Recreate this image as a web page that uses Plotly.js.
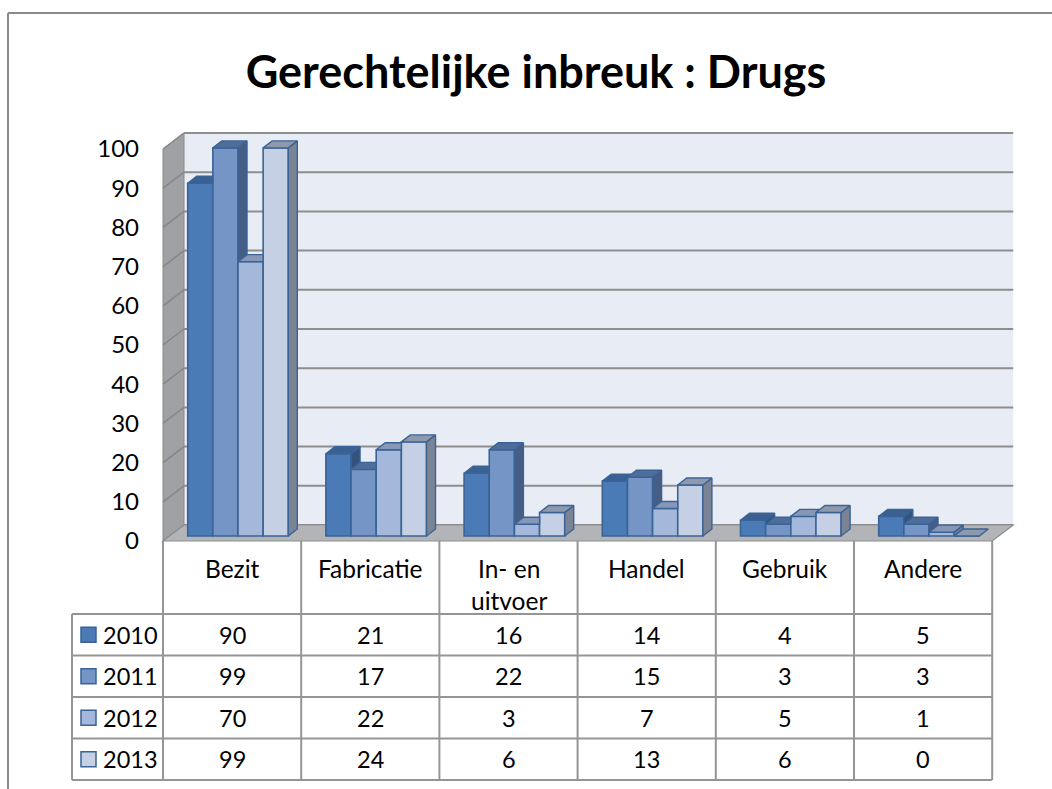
<!DOCTYPE html>
<html>
<head>
<meta charset="utf-8">
<script src="https://cdn.plot.ly/plotly-3.0.1.min.js"></script>
<style>html,body{margin:0;padding:0;background:#fff;}#chart{width:1052px;height:789px;}</style>
</head>
<body>
<div id="chart"></div>
<script>
// ---------- data ----------
const categories = ['Bezit', 'Fabricatie', 'In- en<br>uitvoer', 'Handel', 'Gebruik', 'Andere'];
const years = ['2010', '2011', '2012', '2013'];
const v2010 = [90, 21, 16, 14, 4, 5];
const v2011 = [99, 17, 22, 15, 3, 3];
const v2012 = [70, 22, 3, 7, 5, 1];
const v2013 = [99, 24, 6, 13, 6, 0];
const yTicks = [0, 10, 20, 30, 40, 50, 60, 70, 80, 90, 100];

// ---------- styling ----------
const series = [v2010, v2011, v2012, v2013];
const frontColors = ['#4A7BB7', '#7495C5', '#A3B8DA', '#C5D0E4'];
const topColors   = ['#3B6193', '#4F6D9A', '#8697B7', '#8E99AD'];
const sideColors  = ['#33537F', '#465E86', '#6F7F9C', '#7B8495'];
const edge = '#3A6396';
const FONT = 'Lato, "Open Sans", sans-serif';

const W = 1052, H = 789, L = 140, R = 20, T = 110, B = 229;
const PXU = 138.2;            // px per category
const X0PX = 163;             // pixel of x=-0.5
const YPX = 3.92;             // px per value unit
const BASEPX = 536;           // pixel of value 0 (bar base)
const xr0 = -0.5 - (X0PX - L) / PXU;
const xr1 = xr0 + (W - L - R) / PXU;
const yr0 = (BASEPX - (H - B)) / YPX;
const yr1 = (BASEPX - T) / YPX;
const pX = px => (px - L) / (W - L - R);
const pY = py => (H - B - py) / (H - T - B);

// 3D geometry (data units)
const barW = 25.15 / PXU;
const grpOff = -44.4 / PXU;
const bdx = 9 / PXU, bdy = 7 / YPX;
const wdx = 21 / PXU;
const floorFront = (BASEPX - 541) / YPX;
const wallBase = (BASEPX - 525) / YPX;
const nC = categories.length;
const xs = categories.map((c, i) => i);

const traces = [];
// front faces as bars
series.forEach((vals, s) => {
  traces.push({
    type: 'bar', x: xs, y: vals, name: years[s],
    offset: grpOff + s * barW, width: barW,
    marker: {color: frontColors[s], line: {color: edge, width: 1.6}},
    hoverinfo: 'skip', showlegend: false
  });
});
// top and side faces computed from the data
series.forEach((vals, s) => {
  const tx = [], ty = [], sx = [], sy = [];
  vals.forEach((v, c) => {
    const xl = c + grpOff + s * barW, xrr = xl + barW;
    const nxt = s < series.length - 1 ? series[s + 1][c] : null;
    // top face
    if (nxt !== null && nxt > v) {
      const g = Math.min(nxt, v + bdy);
      const fx = xrr + Math.max(0, (v + bdy - nxt)) * bdx / bdy;
      tx.push(xl, xrr, xrr, fx, xl + bdx, xl, null);
      ty.push(v, v, g, v + bdy, v + bdy, v, null);
    } else {
      tx.push(xl, xrr, xrr + bdx, xl + bdx, xl, null);
      ty.push(v, v, v + bdy, v + bdy, v, null);
    }
    // side face (visible part)
    const low = nxt === null ? 0 : nxt;
    if (v > low) {
      sx.push(xrr, xrr, xrr + bdx, xrr + bdx, xrr, null);
      sy.push(low, v, v + bdy, low + bdy, low, null);
    }
  });
  traces.push({type: 'scatter', mode: 'lines', x: sx, y: sy, fill: 'toself',
    fillcolor: sideColors[s], line: {color: edge, width: 1.4}, hoverinfo: 'skip', showlegend: false});
  traces.push({type: 'scatter', mode: 'lines', x: tx, y: ty, fill: 'toself',
    fillcolor: topColors[s], line: {color: edge, width: 1.4}, hoverinfo: 'skip', showlegend: false});
});

// walls
const shapes = [];
const wallTop = wallBase + 100;
shapes.push({type: 'rect', layer: 'below', xref: 'x', yref: 'y', x0: -0.5 + wdx, x1: 5.5 + wdx, y0: wallBase, y1: wallTop,
  fillcolor: '#E8ECF5', line: {width: 0}});
yTicks.forEach(k => {
  shapes.push({type: 'line', layer: 'below', xref: 'x', yref: 'y', x0: -0.5 + wdx, x1: 5.5 + wdx, y0: wallBase + k, y1: wallBase + k,
    line: {color: '#8E8E8E', width: 2}});
});
shapes.push({type: 'path', layer: 'below', xref: 'x', yref: 'y',
  path: `M${-0.5},${floorFront} L${-0.5},${floorFront + 100} L${-0.5 + wdx},${wallTop} L${-0.5 + wdx},${wallBase} Z`,
  fillcolor: '#A0A1A4', line: {color: '#8A8A8A', width: 1}});
yTicks.forEach(k => {
  shapes.push({type: 'line', layer: 'below', xref: 'x', yref: 'y', x0: -0.5, x1: -0.5 + wdx, y0: floorFront + k, y1: wallBase + k,
    line: {color: '#868686', width: 1.5}});
});
shapes.push({type: 'path', layer: 'below', xref: 'x', yref: 'y',
  path: `M${-0.5},${floorFront} L${5.5},${floorFront} L${5.5 + wdx},${wallBase} L${-0.5 + wdx},${wallBase} Z`,
  fillcolor: '#B3B4B7', line: {color: '#8E8E8E', width: 1.2}});

// data table
const gridCol = '#959595';
const colPx = k => X0PX + k * PXU;
const headTop = 541, rowTop = 614, rowH = 41.5;
const tableBottom = rowTop + rowH * years.length;
for (let k = 0; k <= nC; k++) {
  shapes.push({type: 'line', xref: 'paper', yref: 'paper', x0: pX(colPx(k)), x1: pX(colPx(k)), y0: pY(headTop), y1: pY(tableBottom),
    line: {color: gridCol, width: 2}});
}
for (let r = 0; r <= years.length; r++) {
  const y = rowTop + r * rowH;
  shapes.push({type: 'line', xref: 'paper', yref: 'paper', x0: pX(72), x1: pX(colPx(nC)), y0: pY(y), y1: pY(y),
    line: {color: gridCol, width: 2}});
}
shapes.push({type: 'line', xref: 'paper', yref: 'paper', x0: pX(72), x1: pX(72), y0: pY(rowTop), y1: pY(tableBottom),
  line: {color: gridCol, width: 2}});
// outer chart border
shapes.push({type: 'line', xref: 'paper', yref: 'paper', x0: pX(8), x1: pX(1060), y0: pY(13), y1: pY(13), line: {color: '#8A8A8A', width: 2}});
shapes.push({type: 'line', xref: 'paper', yref: 'paper', x0: pX(8), x1: pX(8), y0: pY(13), y1: pY(800), line: {color: '#8A8A8A', width: 2}});

const annotations = [];
const hf = {family: FONT, size: 24.5, color: '#000'};
const tf = {family: FONT, size: 23.5, color: '#000'};
categories.forEach((c, k) => {
  annotations.push({xref: 'paper', yref: 'paper', x: pX(colPx(k) + PXU / 2), y: pY(552), xanchor: 'center', yanchor: 'top',
    text: c, showarrow: false, font: hf});
});
years.forEach((yr, r) => {
  const cy = rowTop + r * rowH + rowH / 2;
  shapes.push({type: 'rect', xref: 'paper', yref: 'paper', x0: pX(81), x1: pX(96), y0: pY(cy - 7.5), y1: pY(cy + 7.5),
    fillcolor: frontColors[r], line: {color: edge, width: 1.5}});
  annotations.push({xref: 'paper', yref: 'paper', x: pX(101), y: pY(cy), xanchor: 'left', yanchor: 'middle',
    text: yr, showarrow: false, font: tf});
  series[r].forEach((v, k) => {
    annotations.push({xref: 'paper', yref: 'paper', x: pX(colPx(k) + PXU / 2), y: pY(cy), xanchor: 'center', yanchor: 'middle',
      text: String(v), showarrow: false, font: tf});
  });
});

const layout = {
  width: W, height: H, autosize: false,
  margin: {l: L, r: R, t: T, b: B, pad: 0},
  paper_bgcolor: '#fff', plot_bgcolor: 'rgba(0,0,0,0)',
  title: {text: '<b>Gerechtelijke inbreuk : Drugs</b>', xref: 'container', yref: 'container',
    x: 536 / W, y: 1 - 72 / H, xanchor: 'center', yanchor: 'middle',
    font: {family: FONT, size: 45, color: '#000'}},
  barmode: 'overlay',
  xaxis: {range: [xr0, xr1], showgrid: false, zeroline: false, showline: false, showticklabels: false, ticks: '', fixedrange: true},
  yaxis: {range: [yr0, yr1], showgrid: false, zeroline: false, showline: false, ticks: '',
    tickvals: yTicks, ticktext: yTicks.map(String), ticklabelshift: 5, ticklabelstandoff: 0,
    tickfont: {family: FONT, size: 24, color: '#000'}, fixedrange: true},
  shapes: shapes, annotations: annotations, showlegend: false
};

Plotly.newPlot('chart', traces, layout, {displayModeBar: false, staticPlot: true});
</script>
</body>
</html>
